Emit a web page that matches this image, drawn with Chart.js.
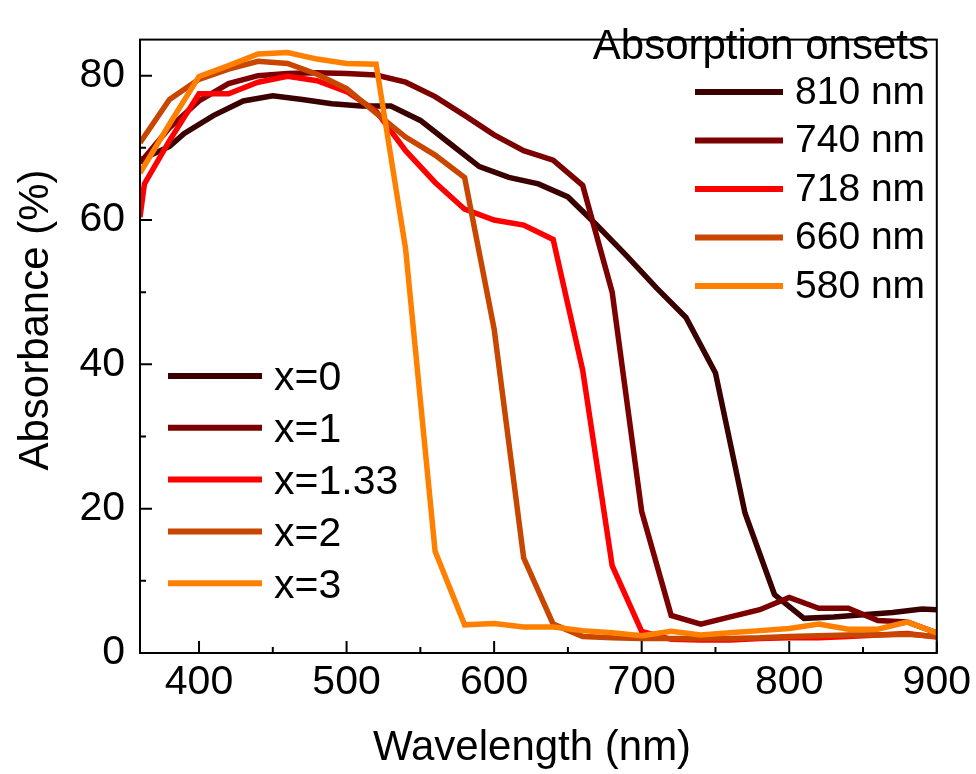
<!DOCTYPE html>
<html>
<head>
<meta charset="utf-8">
<script src="https://cdn.jsdelivr.net/npm/chart.js@4.4.1/dist/chart.umd.min.js"></script>
<style>
  html, body { margin: 0; padding: 0; background: #fff; }
  #wrap { width: 976px; height: 774px; }
</style>
</head>
<body>
<div id="wrap"><canvas id="absChart" width="976" height="774"></canvas></div>
<script>
// series names, legend texts and colours
const compositions = ['x=0', 'x=1', 'x=1.33', 'x=2', 'x=3'];
const onsets = ['810 nm', '740 nm', '718 nm', '660 nm', '580 nm'];
const colors = ['#3a0000', '#7d0000', '#ff0000', '#c84600', '#ff8000'];

// x=0  (810 nm)
const wl0 = [360, 380, 390, 410, 430, 450, 470, 490, 510, 530, 550, 570, 590, 610, 630, 650, 670, 690, 710, 730, 750, 770, 790, 810, 830, 850, 870, 890, 900];
const abs0 = [68.3, 70.2, 72.0, 74.5, 76.5, 77.2, 76.7, 76.1, 75.8, 75.8, 73.8, 70.6, 67.4, 65.9, 65.0, 63.2, 59.2, 55.0, 50.6, 46.5, 38.8, 19.4, 8.1, 4.8, 5.0, 5.3, 5.6, 6.1, 6.0];

// x=1  (740 nm)
const wl1 = [360, 380, 400, 420, 440, 460, 480, 500, 520, 540, 560, 580, 600, 620, 640, 660, 680, 700, 720, 740, 760, 780, 800, 820, 840, 860, 880, 900];
const abs1 = [67.9, 72.8, 76.5, 78.9, 80.0, 80.3, 80.4, 80.3, 80.1, 79.1, 77.1, 74.5, 71.8, 69.6, 68.3, 64.8, 50.0, 19.6, 5.2, 4.0, 5.0, 6.0, 7.7, 6.2, 6.2, 4.5, 4.3, 2.8];

// x=1.33  (718 nm)
const wl2 = [360, 363, 380, 400, 420, 440, 460, 480, 500, 520, 540, 560, 580, 600, 620, 640, 660, 680, 700, 720, 740, 760, 780, 800, 820, 840, 860, 880, 900];
const abs2 = [60.4, 65.0, 71.0, 77.5, 77.5, 79.1, 79.9, 79.3, 77.8, 75.1, 69.6, 65.2, 61.5, 60.0, 59.3, 57.3, 39.2, 12.1, 3.0, 1.9, 1.8, 1.8, 2.0, 2.1, 2.1, 2.3, 2.5, 2.7, 2.2];

// x=2  (660 nm)
const wl3 = [360, 380, 400, 420, 440, 460, 480, 500, 520, 540, 560, 580, 600, 620, 640, 660, 680, 700, 720, 740, 760, 780, 800, 820, 840, 860, 880, 900];
const abs3 = [70.7, 76.7, 79.5, 80.9, 82.0, 81.7, 80.2, 78.2, 74.8, 71.5, 69.0, 65.9, 44.9, 13.2, 4.0, 2.3, 2.1, 2.0, 2.0, 2.0, 2.0, 2.1, 2.3, 2.4, 2.5, 2.5, 2.6, 2.3];

// x=3  (580 nm)
const wl4 = [360, 380, 400, 420, 440, 460, 480, 500, 520, 540, 560, 580, 600, 620, 640, 660, 680, 700, 720, 740, 760, 780, 800, 820, 840, 860, 880, 900];
const abs4 = [66.5, 73.3, 79.9, 81.4, 83.0, 83.2, 82.3, 81.7, 81.6, 56.0, 14.1, 3.9, 4.1, 3.6, 3.6, 3.1, 2.8, 2.4, 3.0, 2.5, 2.8, 3.1, 3.4, 4.0, 3.3, 3.3, 4.3, 2.8];

const wls = [wl0, wl1, wl2, wl3, wl4];
const absorb = [abs0, abs1, abs2, abs3, abs4];

const FONT = "'Liberation Sans', Arial, sans-serif";

// frame, inward ticks, axis titles and the two legends
const decor = {
    id: 'decor',
    afterDatasetsDraw(chart) {
        const { ctx, chartArea: a, scales } = chart;
        ctx.save();
        ctx.strokeStyle = '#000';
        ctx.lineWidth = 2;
        ctx.strokeRect(a.left, a.top, a.right - a.left, a.bottom - a.top);

        // major ticks from the scales, minor ticks halfway
        const xt = scales.x.ticks.map(t => t.value);
        const yt = scales.y.ticks.map(t => t.value);
        ctx.beginPath();
        xt.forEach(v => {
            const px = scales.x.getPixelForValue(v);
            ctx.moveTo(px, a.bottom); ctx.lineTo(px, a.bottom - 12);
            const m = v - 50;
            if (m > scales.x.min) {
                const mp = scales.x.getPixelForValue(m);
                ctx.moveTo(mp, a.bottom); ctx.lineTo(mp, a.bottom - 6);
            }
        });
        yt.forEach(v => {
            const py = scales.y.getPixelForValue(v);
            ctx.moveTo(a.left, py); ctx.lineTo(a.left + 12, py);
            const m = v + 10;
            if (m < scales.y.max) {
                const mp = scales.y.getPixelForValue(m);
                ctx.moveTo(a.left, mp); ctx.lineTo(a.left + 6, mp);
            }
        });
        ctx.stroke();
        ctx.restore();
    },
    afterDraw(chart) {
        const { ctx } = chart;
        ctx.save();
        ctx.fillStyle = '#000';

        // axis titles
        ctx.font = '42px ' + FONT;
        ctx.textAlign = 'center';
        ctx.textBaseline = 'middle';
        ctx.fillText('Wavelength (nm)', 532, 748);
        ctx.save();
        ctx.translate(36, 320);
        ctx.rotate(-Math.PI / 2);
        ctx.fillText('Absorbance (%)', 0, 0);
        ctx.restore();

        ctx.lineWidth = 6;
        // top-right: absorption onsets
        ctx.textAlign = 'right';
        ctx.textBaseline = 'alphabetic';
        ctx.fillText('Absorption onsets', 929, 59);
        ctx.font = '39px ' + FONT;
        ctx.textAlign = 'left';
        ctx.textBaseline = 'middle';
        onsets.forEach((t, i) => {
            const y = 92 + i * 48.5;
            ctx.strokeStyle = colors[i];
            ctx.beginPath(); ctx.moveTo(695, y); ctx.lineTo(783, y); ctx.stroke();
            ctx.fillText(t, 795, y + 1);
        });

        // lower-left: compositions
        ctx.font = '41px ' + FONT;
        chart.data.datasets.forEach((ds, i) => {
            const y = 376 + i * 51.8;
            ctx.strokeStyle = ds.borderColor;
            ctx.beginPath(); ctx.moveTo(168, y); ctx.lineTo(262, y); ctx.stroke();
            ctx.fillText(ds.label, 274, y + 3);
        });
        ctx.restore();
    }
};

const datasets = compositions.map((name, i) => ({
    label: name,
    data: wls[i].map((w, k) => ({ x: w, y: absorb[i][k] })),
    borderColor: colors[i],
    backgroundColor: colors[i],
    borderWidth: 5.5,
    pointRadius: 0,
    tension: 0,
    fill: false,
    order: 4 - i
}));

new Chart(document.getElementById('absChart'), {
    type: 'line',
    data: { datasets },
    plugins: [decor],
    options: {
        responsive: false,
        animation: false,
        devicePixelRatio: 1,
        layout: { padding: { top: 10, right: 39, left: 0, bottom: 0 } },
        plugins: { legend: { display: false }, tooltip: { enabled: false } },
        scales: {
            x: {
                type: 'linear',
                min: 360,
                max: 900,
                grid: { display: false, drawTicks: false },
                border: { display: false },
                ticks: { stepSize: 100, includeBounds: false, padding: 5, maxRotation: 0, autoSkip: false,
                         color: '#000', font: { family: FONT, size: 41 } },
                afterFit: s => { s.height = 121; }
            },
            y: {
                min: 0,
                max: 85,
                grid: { display: false, drawTicks: false },
                border: { display: false },
                ticks: { stepSize: 20, includeBounds: false, padding: 15,
                         color: '#000', font: { family: FONT, size: 41 } },
                afterFit: s => { s.width = 140; }
            }
        }
    }
});
</script>
</body>
</html>
